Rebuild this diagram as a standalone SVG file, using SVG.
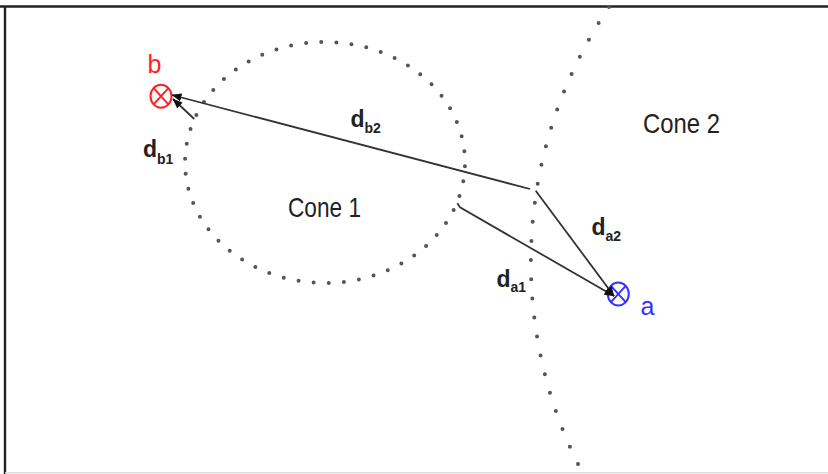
<svg xmlns="http://www.w3.org/2000/svg" width="828" height="474" viewBox="0 0 828 474">
<defs>
<style>
.dots{fill:none;stroke:#555;stroke-width:4;stroke-linecap:round;stroke-dasharray:0 1}
.conn{fill:none;stroke:#333;stroke-width:1.8;marker-end:url(#ah)}
.lbl{font-family:"Liberation Sans",Arial,sans-serif;fill:#222}
.cone{font-size:28px}
.d{font-size:23px;font-weight:bold}
.sub{font-size:14px;font-weight:bold}
</style>
<marker id="ah" viewBox="0 0 10 8" refX="9.5" refY="4" markerWidth="10" markerHeight="8" markerUnits="userSpaceOnUse" orient="auto">
<path d="M0,0 L10,4 L0,8 Z" fill="#111"/>
</marker>
</defs>
<rect x="0" y="0" width="828" height="474" fill="#fff"/>
<g id="frame">
<line x1="0" y1="6.5" x2="828" y2="6.5" stroke="#222" stroke-width="2.6"/>
<line x1="5" y1="6" x2="5" y2="474" stroke="#222" stroke-width="2.4"/>
<line x1="5" y1="472.8" x2="828" y2="472.8" stroke="#ddd" stroke-width="1.4"/>
</g>
<g id="cone1">
<ellipse class="dots" cx="325" cy="162.5" rx="140" ry="120.5" pathLength="54" stroke-dashoffset="-0.25"/>
<text class="lbl cone" x="288" y="217" textLength="73" lengthAdjust="spacingAndGlyphs">Cone 1</text>
</g>
<g id="cone2">
<path class="dots" d="M609,7 A456,456 0 0 0 578,464" pathLength="25"/>
<text class="lbl cone" x="643" y="133" textLength="77" lengthAdjust="spacingAndGlyphs">Cone 2</text>
</g>
<g id="b">
<ellipse cx="161" cy="96.3" rx="10.5" ry="11.5" fill="none" stroke="#f22" stroke-width="2"/>
<path d="M153.6,88.2 L168.4,104.4 M168.4,88.2 L153.6,104.4" stroke="#f22" stroke-width="2"/>
<text x="147.5" y="73.3" font-family="Liberation Sans, Arial, sans-serif" font-size="25" fill="#f22">b</text>
</g>
<g id="a">
<ellipse cx="618.3" cy="294" rx="10.5" ry="11.5" fill="none" stroke="#33f" stroke-width="2"/>
<path d="M610.9,285.9 L625.7,302.1 M625.7,285.9 L610.9,302.1" stroke="#33f" stroke-width="2"/>
<text x="640.5" y="315" font-family="Liberation Sans, Arial, sans-serif" font-size="25" fill="#33f">a</text>
</g>
<g id="connectors">
<path class="conn" d="M530,189 L172,95"/>
<path class="conn" d="M194.3,119 L173,99"/>
<path class="conn" d="M457.3,203.3 L460,207.3 L614,296"/>
<path class="conn" d="M535.7,190.7 L614,296"/>
</g>
<g id="labels">
<text class="lbl d" x="350.5" y="126.5">d<tspan class="sub" dy="6.5">b2</tspan></text>
<text class="lbl d" x="143" y="157">d<tspan class="sub" dy="6.5">b1</tspan></text>
<text class="lbl d" x="591.5" y="235">d<tspan class="sub" dy="6">a2</tspan></text>
<text class="lbl d" x="496.5" y="286.5">d<tspan class="sub" dy="5">a1</tspan></text>
</g>
</svg>
